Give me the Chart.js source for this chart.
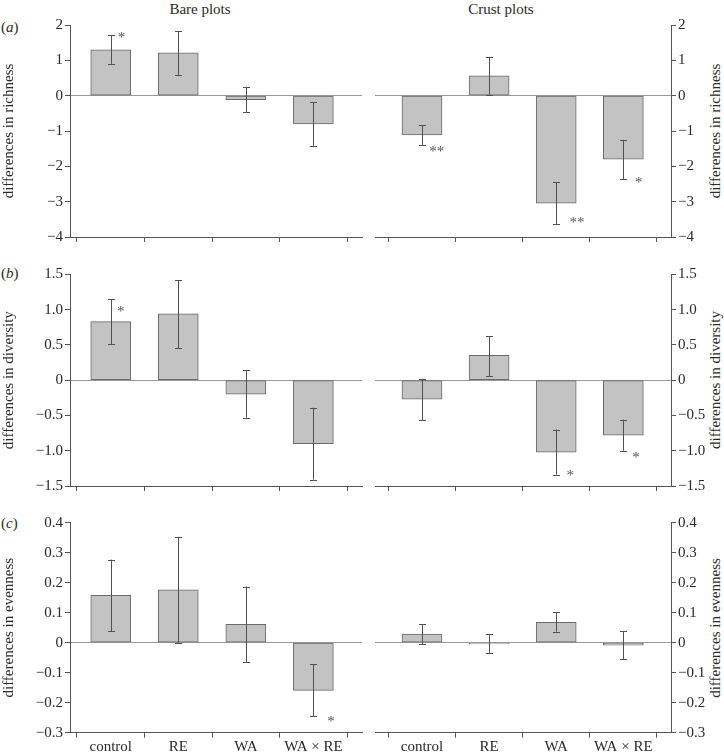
<!DOCTYPE html>
<html><head><meta charset="utf-8">
<script src="https://cdn.jsdelivr.net/npm/chart.js@4/dist/chart.umd.min.js"></script>
<style>
html,body{margin:0;padding:0;background:#fff;}
body{width:724px;height:753px;position:relative;overflow:hidden;font-family:"Liberation Serif","Times New Roman",serif;}
canvas{position:absolute;}
.t{position:absolute;font-size:15px;line-height:1;color:#2a2a2a;white-space:nowrap;transform:translate(-50%,-50%);}
.r{transform:translate(-50%,-50%) rotate(-90deg);}
.p{position:absolute;font-size:15px;line-height:1;color:#2a2a2a;transform:translate(0,-50%);}
</style></head><body>
<div class="t" style="left:200px;top:9px;">Bare plots</div>
<div class="t" style="left:501px;top:9px;">Crust plots</div>
<div class="p" style="left:1px;top:27px;">(<i>a</i>)</div>
<div class="p" style="left:1px;top:273px;">(<i>b</i>)</div>
<div class="p" style="left:1px;top:523px;">(<i>c</i>)</div>
<div class="t r" style="left:715px;top:131px;">differences in richness</div>
<div class="t r" style="left:715px;top:380px;">differences in diversity</div>
<div class="t r" style="left:715px;top:628px;">differences in evenness</div>

<canvas id="aL" width="365" height="250" style="left:0;top:0"></canvas>
<canvas id="aR" width="359" height="250" style="left:365px;top:0"></canvas>
<canvas id="bL" width="365" height="248" style="left:0;top:250px"></canvas>
<canvas id="bR" width="359" height="248" style="left:365px;top:250px"></canvas>
<canvas id="cL" width="365" height="255" style="left:0;top:498px"></canvas>
<canvas id="cR" width="359" height="255" style="left:365px;top:498px"></canvas>
<script>
// ---- data ----
const categories = ['control', 'RE', 'WA', 'WA × RE'];

const richBare   = [1.30, 1.21, -0.11, -0.80];
const richBareLo = [0.90, 0.59, -0.46, -1.42];
const richBareHi = [1.72, 1.82, 0.25, -0.18];
const richCrust   = [-1.11, 0.56, -3.04, -1.80];
const richCrustLo = [-1.39, 0.03, -3.64, -2.37];
const richCrustHi = [-0.83, 1.10, -2.45, -1.25];

const divBare   = [0.83, 0.94, -0.20, -0.90];
const divBareLo = [0.51, 0.45, -0.53, -1.41];
const divBareHi = [1.15, 1.42, 0.14, -0.39];
const divCrust   = [-0.27, 0.35, -1.02, -0.78];
const divCrustLo = [-0.57, 0.06, -1.34, -1.00];
const divCrustHi = [0.02, 0.62, -0.70, -0.56];

const evenBare   = [0.158, 0.176, 0.061, -0.159];
const evenBareLo = [0.038, 0.000, -0.064, -0.246];
const evenBareHi = [0.277, 0.353, 0.187, -0.072];
const evenCrust   = [0.029, -0.004, 0.068, -0.008];
const evenCrustLo = [-0.004, -0.036, 0.037, -0.055];
const evenCrustHi = [0.061, 0.028, 0.102, 0.038];

// significance marks: label, x (category units), y (data units)
const richBareStars  = ['*', '', '', ''];
const richBareStarX  = [0.16, 0, 0, 0];
const richBareStarY  = [1.73, 0, 0, 0];
const richCrustStars = ['**', '', '**', '*'];
const richCrustStarX = [0.22, 0, 2.31, 3.23];
const richCrustStarY = [-1.51, 0, -3.52, -2.40];
const divBareStars   = ['*', '', '', ''];
const divBareStarX   = [0.15, 0, 0, 0];
const divBareStarY   = [1.01, 0, 0, 0];
const divCrustStars  = ['', '', '*', '*'];
const divCrustStarX  = [0, 0, 2.21, 3.19];
const divCrustStarY  = [0, 0, -1.31, -1.06];
const evenBareStars  = ['', '', '', '*'];
const evenBareStarX  = [0, 0, 0, 3.26];
const evenBareStarY  = [0, 0, 0, -0.254];
const evenCrustStars = ['', '', '', ''];
const evenCrustStarX = [0, 0, 0, 0];
const evenCrustStarY = [0, 0, 0, 0];

const richTickValues = [-4, -3, -2, -1, 0, 1, 2];
const richTickLabels = ['−4', '−3', '−2', '−1', '0', '1', '2'];
const divTickValues  = [-1.5, -1.0, -0.5, 0, 0.5, 1.0, 1.5];
const divTickLabels  = ['−1.5', '−1.0', '−0.5', '0', '0.5', '1.0', '1.5'];
const evenTickValues = [-0.3, -0.2, -0.1, 0, 0.1, 0.2, 0.3, 0.4];
const evenTickLabels = ['−0.3', '−0.2', '−0.1', '0', '0.1', '0.2', '0.3', '0.4'];

// ---- drawing ----
Chart.defaults.font.family = '"Liberation Serif","Times New Roman",serif';
Chart.defaults.font.size = 15;
Chart.defaults.color = '#2a2a2a';

const AXIS = '#555';

const errorPlugin = {
  id: 'errorBars',
  afterDatasetsDraw(chart) {
    const ds = chart.data.datasets[0];
    const {ctx} = chart;
    const x = chart.scales.x, y = chart.scales.y;
    ctx.save();
    ctx.strokeStyle = '#505050';
    ctx.lineWidth = 1;
    ds.errLo.forEach((lo, i) => {
      const px = Math.round(x.getPixelForValue(i)) + 0.5;
      const yl = y.getPixelForValue(lo);
      const yh = y.getPixelForValue(ds.errHi[i]);
      ctx.beginPath();
      ctx.moveTo(px, yl); ctx.lineTo(px, yh);
      ctx.moveTo(px - 3.5, Math.round(yl) + 0.5); ctx.lineTo(px + 3.5, Math.round(yl) + 0.5);
      ctx.moveTo(px - 3.5, Math.round(yh) + 0.5); ctx.lineTo(px + 3.5, Math.round(yh) + 0.5);
      ctx.stroke();
    });
    ctx.fillStyle = '#555';
    ctx.font = '15px "Liberation Serif","Times New Roman",serif';
    ctx.textAlign = 'center';
    ctx.textBaseline = 'alphabetic';
    ds.stars.forEach((s, i) => {
      if (!s) return;
      const m = ctx.measureText(s);
      const cx = x.getPixelForValue(ds.starX[i]);
      const cy = y.getPixelForValue(ds.starY[i]);
      const base = cy + (m.actualBoundingBoxAscent - m.actualBoundingBoxDescent) / 2;
      ctx.fillText(s, cx, base);
    });
    ctx.restore();
  }
};

function panel(id, side, vals, lo, hi, stars, starX, starY, tickVals, tickLabels, yTitle, top, bottom, H, showX) {
  const left = side === 'L';
  const ymin = tickVals[0], ymax = tickVals[tickVals.length - 1];
  new Chart(document.getElementById(id), {
    type: 'bar',
    data: {
      datasets: [{
        data: vals.map((v, i) => ({x: i, y: v})),
        backgroundColor: '#c3c3c3',
        borderColor: '#6a6a6a',
        borderWidth: 1,
        borderSkipped: false,
        barThickness: 40,
        errLo: lo, errHi: hi,
        stars: stars, starX: starX, starY: starY
      }]
    },
    options: {
      responsive: false,
      animation: false,
      devicePixelRatio: 1,
      layout: {padding: {top: top, bottom: 0, left: left ? 0 : 10, right: left ? 3 : 0}},
      plugins: {legend: {display: false}, tooltip: {enabled: false}, title: {display: false}},
      scales: {
        x: {
          type: 'linear',
          min: left ? -0.603 : -0.70,
          max: left ? 3.72 : 3.71,
          offset: false,
          afterBuildTicks: s => { s.ticks = categories.map((c, i) => ({value: i})); },
          afterFit: s => { s.height = H - bottom; },
          ticks: {
            autoSkip: false, maxRotation: 0, padding: 0,
            callback: (v) => showX ? categories[v] : ''
          },
          grid: {drawOnChartArea: false, drawTicks: true, tickLength: 5, tickColor: AXIS},
          border: {display: true, color: AXIS, width: 1}
        },
        y: {
          position: left ? 'left' : 'right',
          min: ymin, max: ymax,
          afterBuildTicks: s => { s.ticks = tickVals.map(v => ({value: v})); },
          afterFit: s => { s.width = left ? 70 : 53; },
          ticks: {
            padding: 2, autoSkip: false,
            callback: (v, i) => tickLabels[i]
          },
          grid: {
            drawOnChartArea: true, drawTicks: true, tickLength: 5, tickColor: AXIS,
            color: c => (c.tick && c.tick.value === 0) ? '#9a9a9a' : 'rgba(0,0,0,0)',
            lineWidth: 1
          },
          border: {display: true, color: AXIS, width: 1},
          title: {display: left, text: yTitle, padding: {top: 0, bottom: 0}, color: '#2a2a2a'}
        }
      }
    },
    plugins: [errorPlugin]
  });
}

panel('aL', 'L', richBare, richBareLo, richBareHi, richBareStars, richBareStarX, richBareStarY, richTickValues, richTickLabels, 'differences in richness', 25, 237, 250, false);
panel('aR', 'R', richCrust, richCrustLo, richCrustHi, richCrustStars, richCrustStarX, richCrustStarY, richTickValues, richTickLabels, 'differences in richness', 25, 237, 250, false);
panel('bL', 'L', divBare, divBareLo, divBareHi, divBareStars, divBareStarX, divBareStarY, divTickValues, divTickLabels, 'differences in diversity', 24.3, 236, 248, false);
panel('bR', 'R', divCrust, divCrustLo, divCrustHi, divCrustStars, divCrustStarX, divCrustStarY, divTickValues, divTickLabels, 'differences in diversity', 24.3, 236, 248, false);
panel('cL', 'L', evenBare, evenBareLo, evenBareHi, evenBareStars, evenBareStarX, evenBareStarY, evenTickValues, evenTickLabels, 'differences in evenness', 24.7, 234.7, 255, true);
panel('cR', 'R', evenCrust, evenCrustLo, evenCrustHi, evenCrustStars, evenCrustStarX, evenCrustStarY, evenTickValues, evenTickLabels, 'differences in evenness', 24.7, 234.7, 255, true);
</script>
</body></html>
